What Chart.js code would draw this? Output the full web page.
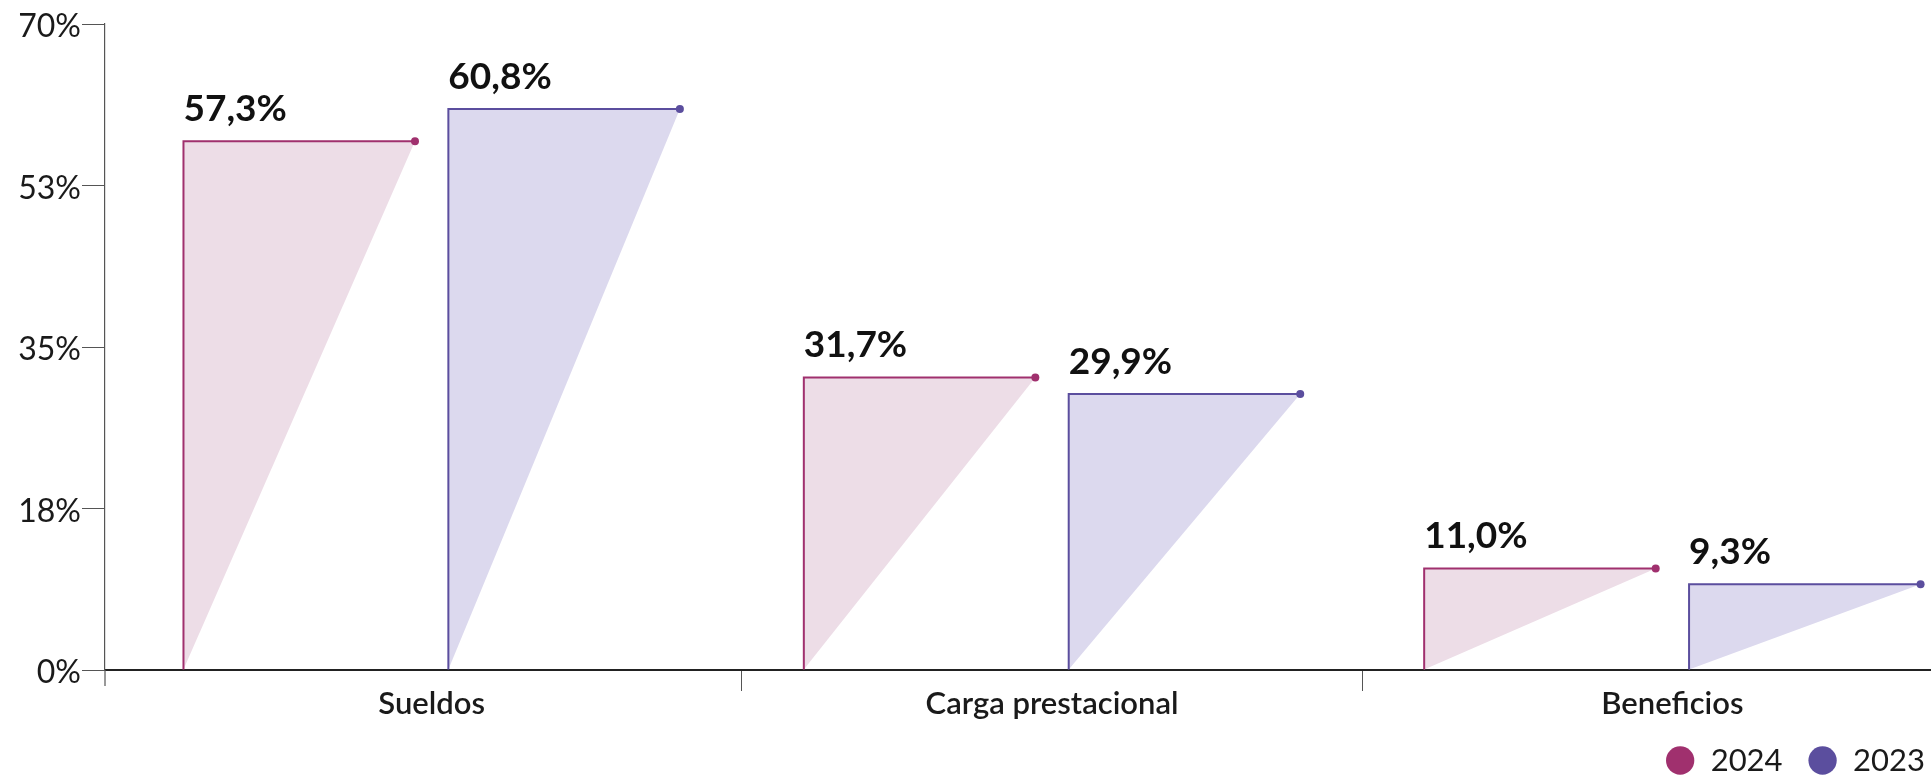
<!DOCTYPE html>
<html>
<head>
<meta charset="utf-8">
<script src="https://cdn.jsdelivr.net/npm/chart.js@4.4.1/dist/chart.umd.min.js"></script>
<style>
  html, body { margin: 0; padding: 0; background: #fff; }
</style>
</head>
<body>
<canvas id="grafico" width="1931" height="778"></canvas>
<script>
const categorias = ['Sueldos', 'Carga prestacional', 'Beneficios'];
const series = ['2024', '2023'];
const valores2024 = [57.3, 31.7, 11.0];
const valores2023 = [60.8, 29.9, 9.3];
const ticksY = [0, 17.5, 35, 52.5, 70];

const colorLinea = ['#A0306E', '#5B4E9E'];
const colorRelleno = ['#EDDDE7', '#DCD9EE'];
const fuente = 'Lato';

// formato de etiqueta: 57,3%
function formato(v) {
    return v.toFixed(1).replace('.', ',') + '%';
}

// dibuja cada barra como triangulo (vertical izq + linea superior + diagonal)
const triangulos = {
    id: 'triangulos',
    afterDatasetsDraw(chart) {
        const ctx = chart.ctx;
        chart.data.datasets.forEach((ds, i) => {
            const meta = chart.getDatasetMeta(i);
            meta.data.forEach((bar, j) => {
                const izq = bar.x - bar.width / 2;
                const der = bar.x + bar.width / 2;
                const arriba = bar.y;
                const base = bar.base;

                ctx.save();
                ctx.beginPath();
                ctx.moveTo(izq, base);
                ctx.lineTo(izq, arriba);
                ctx.lineTo(der, arriba);
                ctx.closePath();
                ctx.fillStyle = colorRelleno[i];
                ctx.fill();

                ctx.beginPath();
                ctx.moveTo(izq, base);
                ctx.lineTo(izq, arriba);
                ctx.lineTo(der, arriba);
                ctx.strokeStyle = colorLinea[i];
                ctx.lineWidth = 2;
                ctx.stroke();

                ctx.beginPath();
                ctx.arc(der, arriba, 4, 0, Math.PI * 2);
                ctx.fillStyle = colorLinea[i];
                ctx.fill();

                ctx.font = 'bold 37px ' + fuente;
                ctx.fillStyle = '#111';
                ctx.textAlign = 'left';
                ctx.textBaseline = 'alphabetic';
                ctx.fillText(formato(ds.data[j].y), izq, arriba - 20);
                ctx.restore();
            });
        });
    },
    // el eje y se prolonga un poco por debajo de la base
    afterDraw(chart) {
        const ctx = chart.ctx;
        const a = chart.chartArea;
        ctx.save();
        ctx.strokeStyle = '#555';
        ctx.lineWidth = 1.2;
        ctx.beginPath();
        ctx.moveTo(a.left, a.bottom);
        ctx.lineTo(a.left, a.bottom + 16);
        ctx.stroke();
        ctx.restore();
    }
};

const datos = {
    datasets: [
        {
            label: series[0],
            data: categorias.map((c, i) => ({ x: i, y: valores2024[i] })),
            backgroundColor: 'rgba(0,0,0,0)',
            borderWidth: 0
        },
        {
            label: series[1],
            data: categorias.map((c, i) => ({ x: i, y: valores2023[i] })),
            backgroundColor: 'rgba(0,0,0,0)',
            borderWidth: 0
        }
    ]
};

new Chart(document.getElementById('grafico'), {
    type: 'bar',
    data: datos,
    options: {
        responsive: false,
        animation: false,
        devicePixelRatio: 1,
        categoryPercentage: 0.854,
        barPercentage: 0.874,
        layout: { padding: { top: 24, right: -19, left: 0, bottom: -8 } },
        plugins: {
            tooltip: { enabled: false },
            legend: {
                position: 'bottom',
                align: 'end',
                labels: {
                    usePointStyle: true,
                    pointStyle: 'circle',
                    boxWidth: 30,
                    boxHeight: 20,
                    padding: 25,
                    color: '#1a1a1a',
                    font: { family: fuente, size: 31 },
                    generateLabels: () => series.map((s, i) => ({
                        text: s,
                        fillStyle: colorLinea[i],
                        strokeStyle: colorLinea[i],
                        lineWidth: 0,
                        pointStyle: 'circle',
                        datasetIndex: i,
                        fontColor: '#1a1a1a'
                    }))
                }
            }
        },
        scales: {
            x: {
                type: 'linear',
                offset: false,
                min: -0.5266,
                max: 2.4169,
                afterBuildTicks: (scale) => {
                    scale.ticks = categorias.map((c, i) => ({ value: i }));
                },
                afterFit: (scale) => { scale.height = 50; },
                ticks: {
                    callback: (v) => categorias[v],
                    color: '#1a1a1a',
                    font: { family: fuente, size: 31, weight: '600' },
                    padding: -6,
                    maxRotation: 0
                },
                grid: {
                    offset: true,
                    drawOnChartArea: false,
                    tickLength: 21,
                    color: (c) => c.index === 0 ? 'rgba(0,0,0,0)' : '#555'
                },
                border: { color: '#222', width: 2 }
            },
            y: {
                min: 0,
                max: 70,
                afterBuildTicks: (scale) => {
                    scale.ticks = ticksY.map(v => ({ value: v }));
                },
                afterFit: (scale) => { scale.width = 105; },
                ticks: {
                    callback: (v) => Math.round(v) + '%',
                    color: '#1a1a1a',
                    font: { family: fuente, size: 32 },
                    padding: 1,
                    labelOffset: 3
                },
                grid: {
                    drawOnChartArea: false,
                    tickLength: 23,
                    color: '#555'
                },
                border: { color: '#555', width: 1.2 }
            }
        }
    },
    plugins: [triangulos]
});
</script>
</body>
</html>
